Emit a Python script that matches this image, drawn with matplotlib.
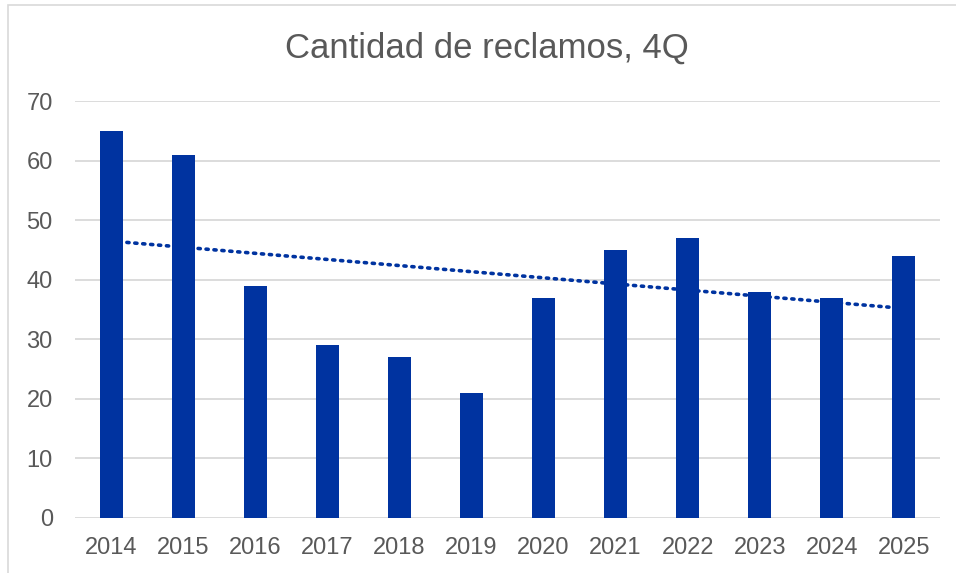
import matplotlib
matplotlib.use("Agg")
import matplotlib.pyplot as plt
import numpy as np
from matplotlib.patches import Rectangle

years = ["2014", "2015", "2016", "2017", "2018", "2019", "2020", "2021", "2022", "2023", "2024", "2025"]
reclamos = [65, 61, 39, 29, 27, 21, 37, 45, 47, 38, 37, 44]
y_ticks = [0, 10, 20, 30, 40, 50, 60, 70]

plt.rcParams['font.family'] = ['Liberation Sans', 'DejaVu Sans']
BLUE = "#0033A0"
GRAY = "#595959"

fig = plt.figure(figsize=(9.56, 5.73), dpi=100)
fig.patches.append(Rectangle((8/956, -0.1), 1.2, 1 - 5/573 + 0.1, transform=fig.transFigure,
                             fill=False, edgecolor="#D9D9D9", linewidth=1.2))
ax = fig.add_axes([75/956, 1 - 518/573, (940 - 75)/956, (518 - 101)/573])

x = np.arange(len(years))
ax.bar(x, reclamos, width=0.32, color=BLUE, zorder=3)

coef = np.polyfit(x, reclamos, 1)
trend = np.polyval(coef, x)
ax.plot(x, trend, linestyle=(0, (0.6, 1.6)), color=BLUE, linewidth=2.6,
        dash_capstyle="round", zorder=4)

ax.set_xlim(-0.5, len(years) - 0.5)
ax.set_ylim(0, 70)
ax.set_yticks(y_ticks)
ax.set_xticks(x)
ax.set_xticklabels(years)
ax.tick_params(axis="both", length=0, labelsize=17, labelcolor=GRAY)
ax.tick_params(axis="x", pad=14)
ax.tick_params(axis="y", pad=16)
ax.grid(axis="y", color="#D9D9D9", linewidth=1.3, zorder=0)
for s in ax.spines.values():
    s.set_visible(False)
ax.set_axisbelow(True)

fig.text(487/956, 1 - 48/573, "Cantidad de reclamos, 4Q", ha="center", va="center",
         fontsize=25, color=GRAY)

fig.savefig("out.png", dpi=100)
